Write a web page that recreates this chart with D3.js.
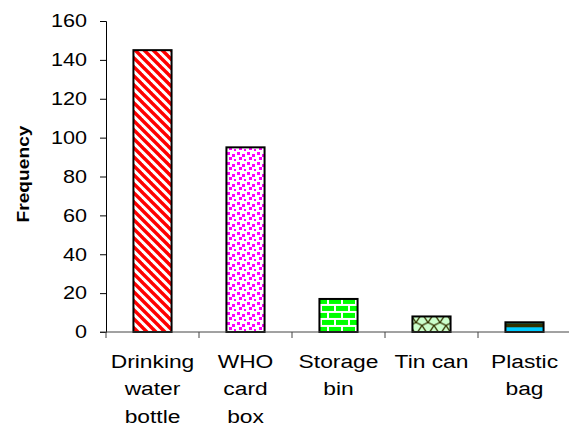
<!DOCTYPE html>
<html>
<head>
<meta charset="utf-8">
<script src="https://cdn.jsdelivr.net/npm/d3@7"></script>
<style>
  body { margin: 0; background: #fff; }
  text { font-family: "Liberation Sans", Arial, sans-serif; }
</style>
</head>
<body>
<div id="chart-area"></div>
<script>
// Data
var categories = ["Drinking water bottle", "WHO card box", "Storage bin", "Tin can", "Plastic bag"];
var labelLines = [["Drinking", "water", "bottle"], ["WHO", "card", "box"], ["Storage", "bin"], ["Tin can"], ["Plastic", "bag"]];
var frequency = [145, 95, 17, 8, 5];
var yTicks = [0, 20, 40, 60, 80, 100, 120, 140, 160];
var patternIds = ["stripes", "dots", "bricks", "trellis", "bands"];

var totalW = 569, totalH = 425;
var margin = {top: 21, right: -2, bottom: 93, left: 106},
    width = totalW - margin.left - margin.right,
    height = totalH - margin.top - margin.bottom;

// the original text is drawn wide, so stretch it a bit
var stretch = 1.2;

var svg = d3.select("#chart-area").append("svg")
    .attr("width", totalW)
    .attr("height", totalH);

var g = svg.append("g")
    .attr("transform", "translate(" + margin.left + "," + margin.top + ")");

// Scales
var x = d3.scaleBand().domain(categories).range([0, width]).paddingInner(0).paddingOuter(0);
var y = d3.scaleLinear().domain([0, 160]).range([height, 0]);
var barW = x.bandwidth() * 0.41;

// Patterns
var defs = svg.append("defs");

var p1 = defs.append("pattern").attr("id", "stripes")
    .attr("patternUnits", "userSpaceOnUse").attr("width", 9).attr("height", 9);
p1.append("rect").attr("width", 9).attr("height", 9).attr("fill", "#fff");
[-9, 0, 9].forEach(function(o) {
    p1.append("line").attr("x1", o - 1).attr("y1", -1).attr("x2", o + 10).attr("y2", 10)
        .attr("stroke", "#ff0000").attr("stroke-width", 3.4);
});

var p2 = defs.append("pattern").attr("id", "dots")
    .attr("patternUnits", "userSpaceOnUse").attr("width", 10).attr("height", 10);
p2.append("rect").attr("width", 10).attr("height", 10).attr("fill", "#fff");
[[1, 1], [6, 3], [3, 6], [8, 8]].forEach(function(d) {
    p2.append("rect").attr("x", d[0]).attr("y", d[1]).attr("width", 3).attr("height", 3).attr("fill", "#ff00ff");
});

var p3 = defs.append("pattern").attr("id", "bricks")
    .attr("patternUnits", "userSpaceOnUse").attr("width", 14).attr("height", 14)
    .attr("y", margin.top + y(frequency[2]));
p3.append("rect").attr("width", 14).attr("height", 14).attr("fill", "#00ff00");
p3.append("rect").attr("x", 0).attr("y", 5).attr("width", 14).attr("height", 2).attr("fill", "#fff");
p3.append("rect").attr("x", 0).attr("y", 12).attr("width", 14).attr("height", 2).attr("fill", "#fff");
p3.append("rect").attr("x", 4).attr("y", 0).attr("width", 2).attr("height", 5).attr("fill", "#fff");
p3.append("rect").attr("x", 11).attr("y", 7).attr("width", 2).attr("height", 5).attr("fill", "#fff");

var p4 = defs.append("pattern").attr("id", "trellis")
    .attr("patternUnits", "userSpaceOnUse").attr("width", 12).attr("height", 12)
    .attr("x", margin.left + x(categories[3]) + 3).attr("y", margin.top + y(frequency[3]));
p4.append("rect").attr("width", 12).attr("height", 12).attr("fill", "#ccffcc");
p4.append("path").attr("d", "M0,0 L6,9 L12,0 M0,12 L6,9 M12,12 L6,9")
    .attr("fill", "none").attr("stroke", "#333300").attr("stroke-width", 1.3);

var p5 = defs.append("pattern").attr("id", "bands")
    .attr("patternUnits", "userSpaceOnUse").attr("width", 8).attr("height", 20)
    .attr("y", margin.top + y(frequency[4]));
p5.append("rect").attr("width", 8).attr("height", 20).attr("fill", "#00ccff");
p5.append("rect").attr("width", 8).attr("height", 4).attr("fill", "#333300");

// Bars
g.selectAll(".bar")
    .data(frequency)
    .enter()
    .append("rect")
    .attr("class", "bar")
    .attr("x", function(d, i) { return x(categories[i]) + (x.bandwidth() - barW) / 2; })
    .attr("y", function(d) { return y(d); })
    .attr("width", barW)
    .attr("height", function(d) { return y(0) - y(d); })
    .attr("fill", function(d, i) { return "url(#" + patternIds[i] + ")"; })
    .attr("stroke", "#000")
    .attr("stroke-width", 2);

// Y axis
var yAxis = g.append("g").call(d3.axisLeft(y).tickValues(yTicks).tickSize(6).tickPadding(13));
yAxis.select(".domain").attr("stroke", "#000");
yAxis.selectAll(".tick line").attr("stroke", "#000");
yAxis.selectAll(".tick text")
    .attr("font-size", 18)
    .attr("fill", "#000")
    .attr("font-family", "Liberation Sans, Arial, sans-serif")
    .attr("x", -19 / stretch)
    .attr("transform", "scale(" + stretch + ",1)");

// X axis
var xAxisG = g.append("g").attr("transform", "translate(0," + height + ")");
xAxisG.append("line").attr("x1", -6).attr("x2", width).attr("y1", 0).attr("y2", 0)
    .attr("stroke", "#444");
xAxisG.selectAll(".xtick")
    .data(categories)
    .enter()
    .append("line")
    .attr("class", "xtick")
    .attr("x1", function(d) { return x(d); })
    .attr("x2", function(d) { return x(d); })
    .attr("y1", 0).attr("y2", 6)
    .attr("stroke", "#444");

var xLabel = xAxisG.selectAll(".xlabel")
    .data(categories)
    .enter()
    .append("text")
    .attr("class", "xlabel")
    .attr("text-anchor", "middle")
    .attr("font-size", 19)
    .attr("fill", "#000")
    .attr("transform", function(d) {
        return "translate(" + (x(d) + x.bandwidth() / 2) + ",36) scale(" + stretch + ",1)";
    });

xLabel.selectAll("tspan")
    .data(function(d, i) { return labelLines[i]; })
    .enter()
    .append("tspan")
    .attr("x", 0)
    .attr("y", function(d, i) { return i * 27.5; })
    .text(function(d) { return d; });

// Y label
svg.append("text")
    .attr("transform", "translate(29,174) rotate(-90) scale(" + stretch + ",1)")
    .attr("text-anchor", "middle")
    .attr("font-size", 16)
    .attr("font-weight", "bold")
    .attr("fill", "#000")
    .text("Frequency");
</script>
</body>
</html>
